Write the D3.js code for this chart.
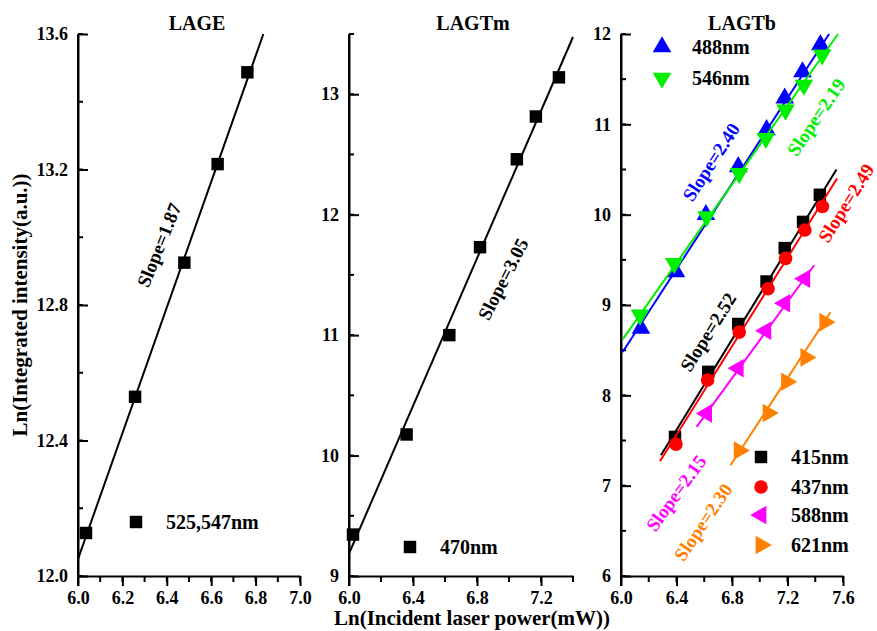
<!DOCTYPE html>
<html>
<head>
<meta charset="utf-8">
<script src="https://cdn.jsdelivr.net/npm/d3@7"></script>
<style>
  body { margin: 0; background: #fff; }
  svg { font-family: "Liberation Serif", "Times New Roman", serif; font-weight: bold; }
</style>
</head>
<body>
<svg width="877" height="631"></svg>
<script>
// ---- data ----
var lageX = [6.036, 6.257, 6.479, 6.629, 6.763];
var lageY = [12.127, 12.529, 12.925, 13.216, 13.487];
var lageFit = [[6.0, 12.05], [6.835, 13.6]];

var lagtmX = [6.025, 6.36, 6.627, 6.819, 7.049, 7.168, 7.312];
var lagtmY = [9.344, 10.175, 11.0, 11.73, 12.46, 12.815, 13.14];
var lagtmFit = [[6.0, 9.186], [7.4, 13.475]];

var x488 = [6.144, 6.396, 6.612, 6.845, 7.049, 7.18, 7.308, 7.437];
var y488 = [8.74, 9.367, 10.0, 10.53, 10.94, 11.29, 11.58, 11.88];
var fit488 = [[6.012, 8.48], [7.5, 12.0]];

var x546 = [6.137, 6.384, 6.617, 6.852, 7.044, 7.186, 7.318, 7.45];
var y546 = [8.89, 9.46, 9.977, 10.457, 10.845, 11.16, 11.435, 11.77];
var fit546 = [[6.012, 8.62], [7.564, 12.0]];

var x415 = [6.389, 6.629, 6.845, 7.049, 7.18, 7.312, 7.433];
var y415 = [7.54, 8.26, 8.79, 9.26, 9.63, 9.92, 10.22];
var fit415 = [[6.288, 7.337], [7.553, 10.5]];

var x437 = [6.396, 6.624, 6.852, 7.06, 7.186, 7.325, 7.452];
var y437 = [7.46, 8.17, 8.70, 9.18, 9.516, 9.83, 10.09];
var fit437 = [[6.281, 7.27], [7.557, 10.40]];

var x588 = [6.617, 6.845, 7.044, 7.18, 7.325];
var y588 = [7.80, 8.30, 8.715, 9.02, 9.29];
var fit588 = [[6.545, 7.65], [7.392, 9.44]];

var x621 = [6.852, 7.06, 7.193, 7.332, 7.469];
var y621 = [7.39, 7.805, 8.15, 8.42, 8.81];
var fit621 = [[6.79, 7.226], [7.51, 8.92]];

var titles = ["LAGE", "LAGTm", "LAGTb"];
var lageTicksY = [12.0, 12.4, 12.8, 13.2, 13.6];
var lagtmTicksY = [9, 10, 11, 12, 13];
var lagtbTicksY = [6, 7, 8, 9, 10, 11, 12];
var lageTicksX = [6.0, 6.2, 6.4, 6.6, 6.8, 7.0];
var lagtmTicksX = [6.0, 6.4, 6.8, 7.2];
var lagtbTicksX = [6.0, 6.4, 6.8, 7.2, 7.6];

var svg = d3.select("svg");
var top0 = 34, bottom0 = 576;

var sq = d3.symbol().type(d3.symbolSquare).size(155);
var tri = d3.symbol().type(d3.symbolTriangle).size(150);
var circ = d3.symbol().type(d3.symbolCircle).size(145);

var panels = [
  { title: titles[0], tx: 197, x0: 78, x1: 300, xd: [6.0, 7.0], yd: [12.0, 13.6],
    xt: lageTicksX, xminor: 0.1, yt: lageTicksY, yminor: 0.2, yfmt: d3.format(".1f"), xfmt: d3.format(".1f"),
    series: [{ x: lageX, y: lageY, fit: lageFit, color: "#000", sym: sq, rot: 0,
      slope: "Slope=1.87", sx: 159, sy: 245, ang: -68 }],
    legend: [{ sym: sq, rot: 0, color: "#000", label: "525,547nm", x: 136, y: 522 }] },
  { title: titles[1], tx: 473, x0: 349, x1: 573, xd: [6.0, 7.4], yd: [9, 13.5],
    xt: lagtmTicksX, xminor: 0.2, yt: lagtmTicksY, yminor: 0.5, yfmt: d3.format("d"), xfmt: d3.format(".1f"),
    series: [{ x: lagtmX, y: lagtmY, fit: lagtmFit, color: "#000", sym: sq, rot: 0,
      slope: "Slope=3.05", sx: 503, sy: 279, ang: -63 }],
    legend: [{ sym: sq, rot: 0, color: "#000", label: "470nm", x: 410, y: 547 }] },
  { title: titles[2], tx: 742, x0: 621, x1: 843, xd: [6.0, 7.6], yd: [6, 12],
    xt: lagtbTicksX, xminor: 0.2, yt: lagtbTicksY, yminor: 0.5, yfmt: d3.format("d"), xfmt: d3.format(".1f"),
    series: [
      { x: x488, y: y488, fit: fit488, color: "#0000ff", sym: tri, rot: 0, slope: "Slope=2.40", sx: 711, sy: 162, ang: -57 },
      { x: x546, y: y546, fit: fit546, color: "#00ee00", sym: tri, rot: 180, slope: "Slope=2.19", sx: 816, sy: 117, ang: -56 },
      { x: x415, y: y415, fit: fit415, color: "#000", sym: sq, rot: 0, slope: "Slope=2.52", sx: 708, sy: 332, ang: -58 },
      { x: x437, y: y437, fit: fit437, color: "#ff0000", sym: circ, rot: 0, slope: "Slope=2.49", sx: 846, sy: 203, ang: -58 },
      { x: x588, y: y588, fit: fit588, color: "#ff00ff", sym: tri, rot: -90, slope: "Slope=2.15", sx: 676, sy: 493, ang: -54 },
      { x: x621, y: y621, fit: fit621, color: "#ff8000", sym: tri, rot: 90, slope: "Slope=2.30", sx: 703, sy: 522, ang: -56 }
    ],
    legend: [
      { sym: tri, rot: 0, color: "#0000ff", label: "488nm", x: 662, y: 47 },
      { sym: tri, rot: 180, color: "#00ee00", label: "546nm", x: 662, y: 78 },
      { sym: sq, rot: 0, color: "#000", label: "415nm", x: 761, y: 457 },
      { sym: circ, rot: 0, color: "#ff0000", label: "437nm", x: 761, y: 487 },
      { sym: tri, rot: -90, color: "#ff00ff", label: "588nm", x: 761, y: 515 },
      { sym: tri, rot: 90, color: "#ff8000", label: "621nm", x: 761, y: 545 }
    ] }
];

panels.forEach(function(p) {
  var x = d3.scaleLinear().domain(p.xd).range([p.x0, p.x1]);
  var y = d3.scaleLinear().domain(p.yd).range([bottom0, top0]);
  var g = svg.append("g");

  // minor ticks
  var xm = d3.range(p.xd[0], p.xd[1] + 1e-9, p.xminor);
  var ym = d3.range(p.yd[0], p.yd[1] + 1e-9, p.yminor);

  var xAxis = g.append("g").attr("transform", "translate(0," + bottom0 + ")")
    .call(d3.axisBottom(x).tickValues(p.xt).tickFormat(p.xfmt).tickSizeInner(10).tickSizeOuter(0).tickPadding(5));
  xAxis.append("g").selectAll("line").data(xm).enter().append("line")
    .attr("x1", function(d) { return x(d); }).attr("x2", function(d) { return x(d); })
    .attr("y1", 0).attr("y2", 6).attr("stroke", "#000").attr("stroke-width", 2);

  var yAxis = g.append("g").attr("transform", "translate(" + p.x0 + ",0)")
    .call(d3.axisLeft(y).tickValues(p.yt).tickFormat(p.yfmt).tickSizeInner(-10).tickSizeOuter(0).tickPadding(10));
  yAxis.append("g").selectAll("line").data(ym).enter().append("line")
    .attr("x1", 0).attr("x2", 5)
    .attr("y1", function(d) { return y(d); }).attr("y2", function(d) { return y(d); })
    .attr("stroke", "#000").attr("stroke-width", 2);

  [xAxis, yAxis].forEach(function(a) {
    a.selectAll("path, line").attr("stroke", "#000").attr("stroke-width", 2);
    a.selectAll("text").attr("font-size", "18px").attr("font-weight", "bold")
      .attr("font-family", "Liberation Serif").attr("fill", "#000");
  });
  // extend y axis line down to x tick bottom
  g.append("line").attr("x1", p.x0).attr("x2", p.x0).attr("y1", top0).attr("y2", bottom0 + 10)
    .attr("stroke", "#000").attr("stroke-width", 2);

  g.append("text").attr("x", p.tx).attr("y", 30).attr("text-anchor", "middle")
    .attr("font-size", "20px").text(p.title);

  p.series.forEach(function(s) {
    g.append("line")
      .attr("x1", x(s.fit[0][0])).attr("y1", y(s.fit[0][1]))
      .attr("x2", x(s.fit[1][0])).attr("y2", y(s.fit[1][1]))
      .attr("stroke", s.color).attr("stroke-width", 2);
    g.selectAll(null).data(s.x).enter().append("path")
      .attr("d", s.sym)
      .attr("transform", function(d, i) { return "translate(" + x(d) + "," + y(s.y[i]) + ") rotate(" + s.rot + ")"; })
      .attr("fill", s.color);
    g.append("text")
      .attr("transform", "translate(" + s.sx + "," + s.sy + ") rotate(" + s.ang + ")")
      .attr("text-anchor", "middle").attr("dy", "0.35em")
      .attr("font-size", "19px").attr("fill", s.color).text(s.slope);
  });

  p.legend.forEach(function(l) {
    g.append("path").attr("d", l.sym)
      .attr("transform", "translate(" + l.x + "," + l.y + ") rotate(" + l.rot + ")")
      .attr("fill", l.color);
    g.append("text").attr("x", l.x + 30).attr("y", l.y).attr("dy", "0.35em")
      .attr("font-size", "20px").attr("fill", "#000").text(l.label);
  });
});

svg.append("text").attr("x", 472).attr("y", 625).attr("text-anchor", "middle")
  .attr("font-size", "21px").text("Ln(Incident laser power(mW))");
svg.append("text").attr("transform", "translate(20,305) rotate(-90)")
  .attr("text-anchor", "middle").attr("dy", "0.35em")
  .attr("font-size", "21px").text("Ln(Integrated intensity(a.u.))");
</script>
</body>
</html>
